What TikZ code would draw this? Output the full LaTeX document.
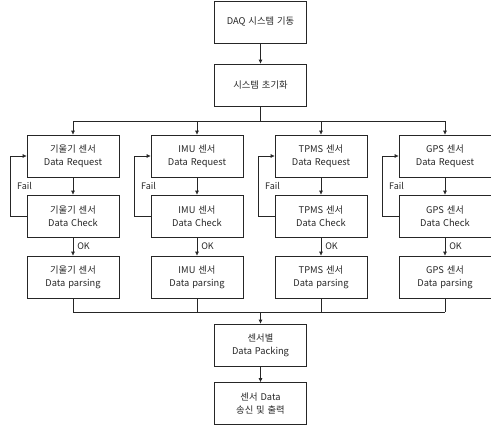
\documentclass[tikz,border=0pt]{standalone}
\usepackage{fontspec}
\setmainfont{Noto Sans CJK KR}[WordSpace=1.4]
\usetikzlibrary{arrows.meta}

\tikzset{
  blk/.style={draw=black!85, line width=0.6pt, minimum width=92pt, minimum height=42pt,
    align=center, text=black!85, font=\fontsize{9.3}{13}\selectfont},
  wire/.style={draw=black!85, line width=0.6pt},
  flow/.style={wire, -{Latex[length=4pt,width=4pt]}},
  tag/.style={text=black!85, font=\fontsize{9}{10}\selectfont, inner sep=1pt}
}

\begin{document}
\begin{tikzpicture}[x=1pt,y=-1pt]
  \useasboundingbox (0,0) rectangle (491,426);
  \node[blk] (daq) at (260.5,22) {DAQ 시스템 기동};
  \node[blk] (init) at (260.5,85) {시스템 초기화};
  \coordinate (split) at (260.5,121);
  \coordinate (merge) at (260.5,312);
  \draw[flow] (daq) -- (init);
  \draw[wire] (init) -- (split);
  % one column per sensor
  \foreach \n/\x/\s in {tilt/73/기울기, imu/197/IMU, tpms/321/TPMS, gps/445/GPS}{
    \node[blk] (\n-req) at (\x,156) {\s{} 센서\\Data Request};
    \node[blk] (\n-chk) at (\x,216) {\s{} 센서\\Data Check};
    \node[blk] (\n-prs) at (\x,277) {\s{} 센서\\Data parsing};
    \draw[flow] (split -| \n-req) -- (\n-req);
    \draw[flow] (\n-req) -- (\n-chk);
    \draw[flow] (\n-chk) -- (\n-prs) node[tag, midway, right=3pt] (\n-ok) {OK};
    \draw[flow] (\n-chk.west) -- ++(-16,0) |- (\n-req.west);
    \node[tag, anchor=west] (\n-fail) at (\x-57,186) {Fail};
    \draw[wire] (\n-prs) -- (\n-prs |- merge);
  }
  \draw[wire] (tilt-req |- split) -- (gps-req |- split);
  \draw[wire] (tilt-prs |- merge) -- (gps-prs |- merge);
  \node[blk] (pack) at (260.5,345) {센서별\\Data Packing};
  \node[blk] (out) at (260.5,403.5) {센서 Data\\송신 및 출력};
  \draw[flow] (merge) -- (pack);
  \draw[flow] (pack) -- (out);
\end{tikzpicture}
\end{document}
